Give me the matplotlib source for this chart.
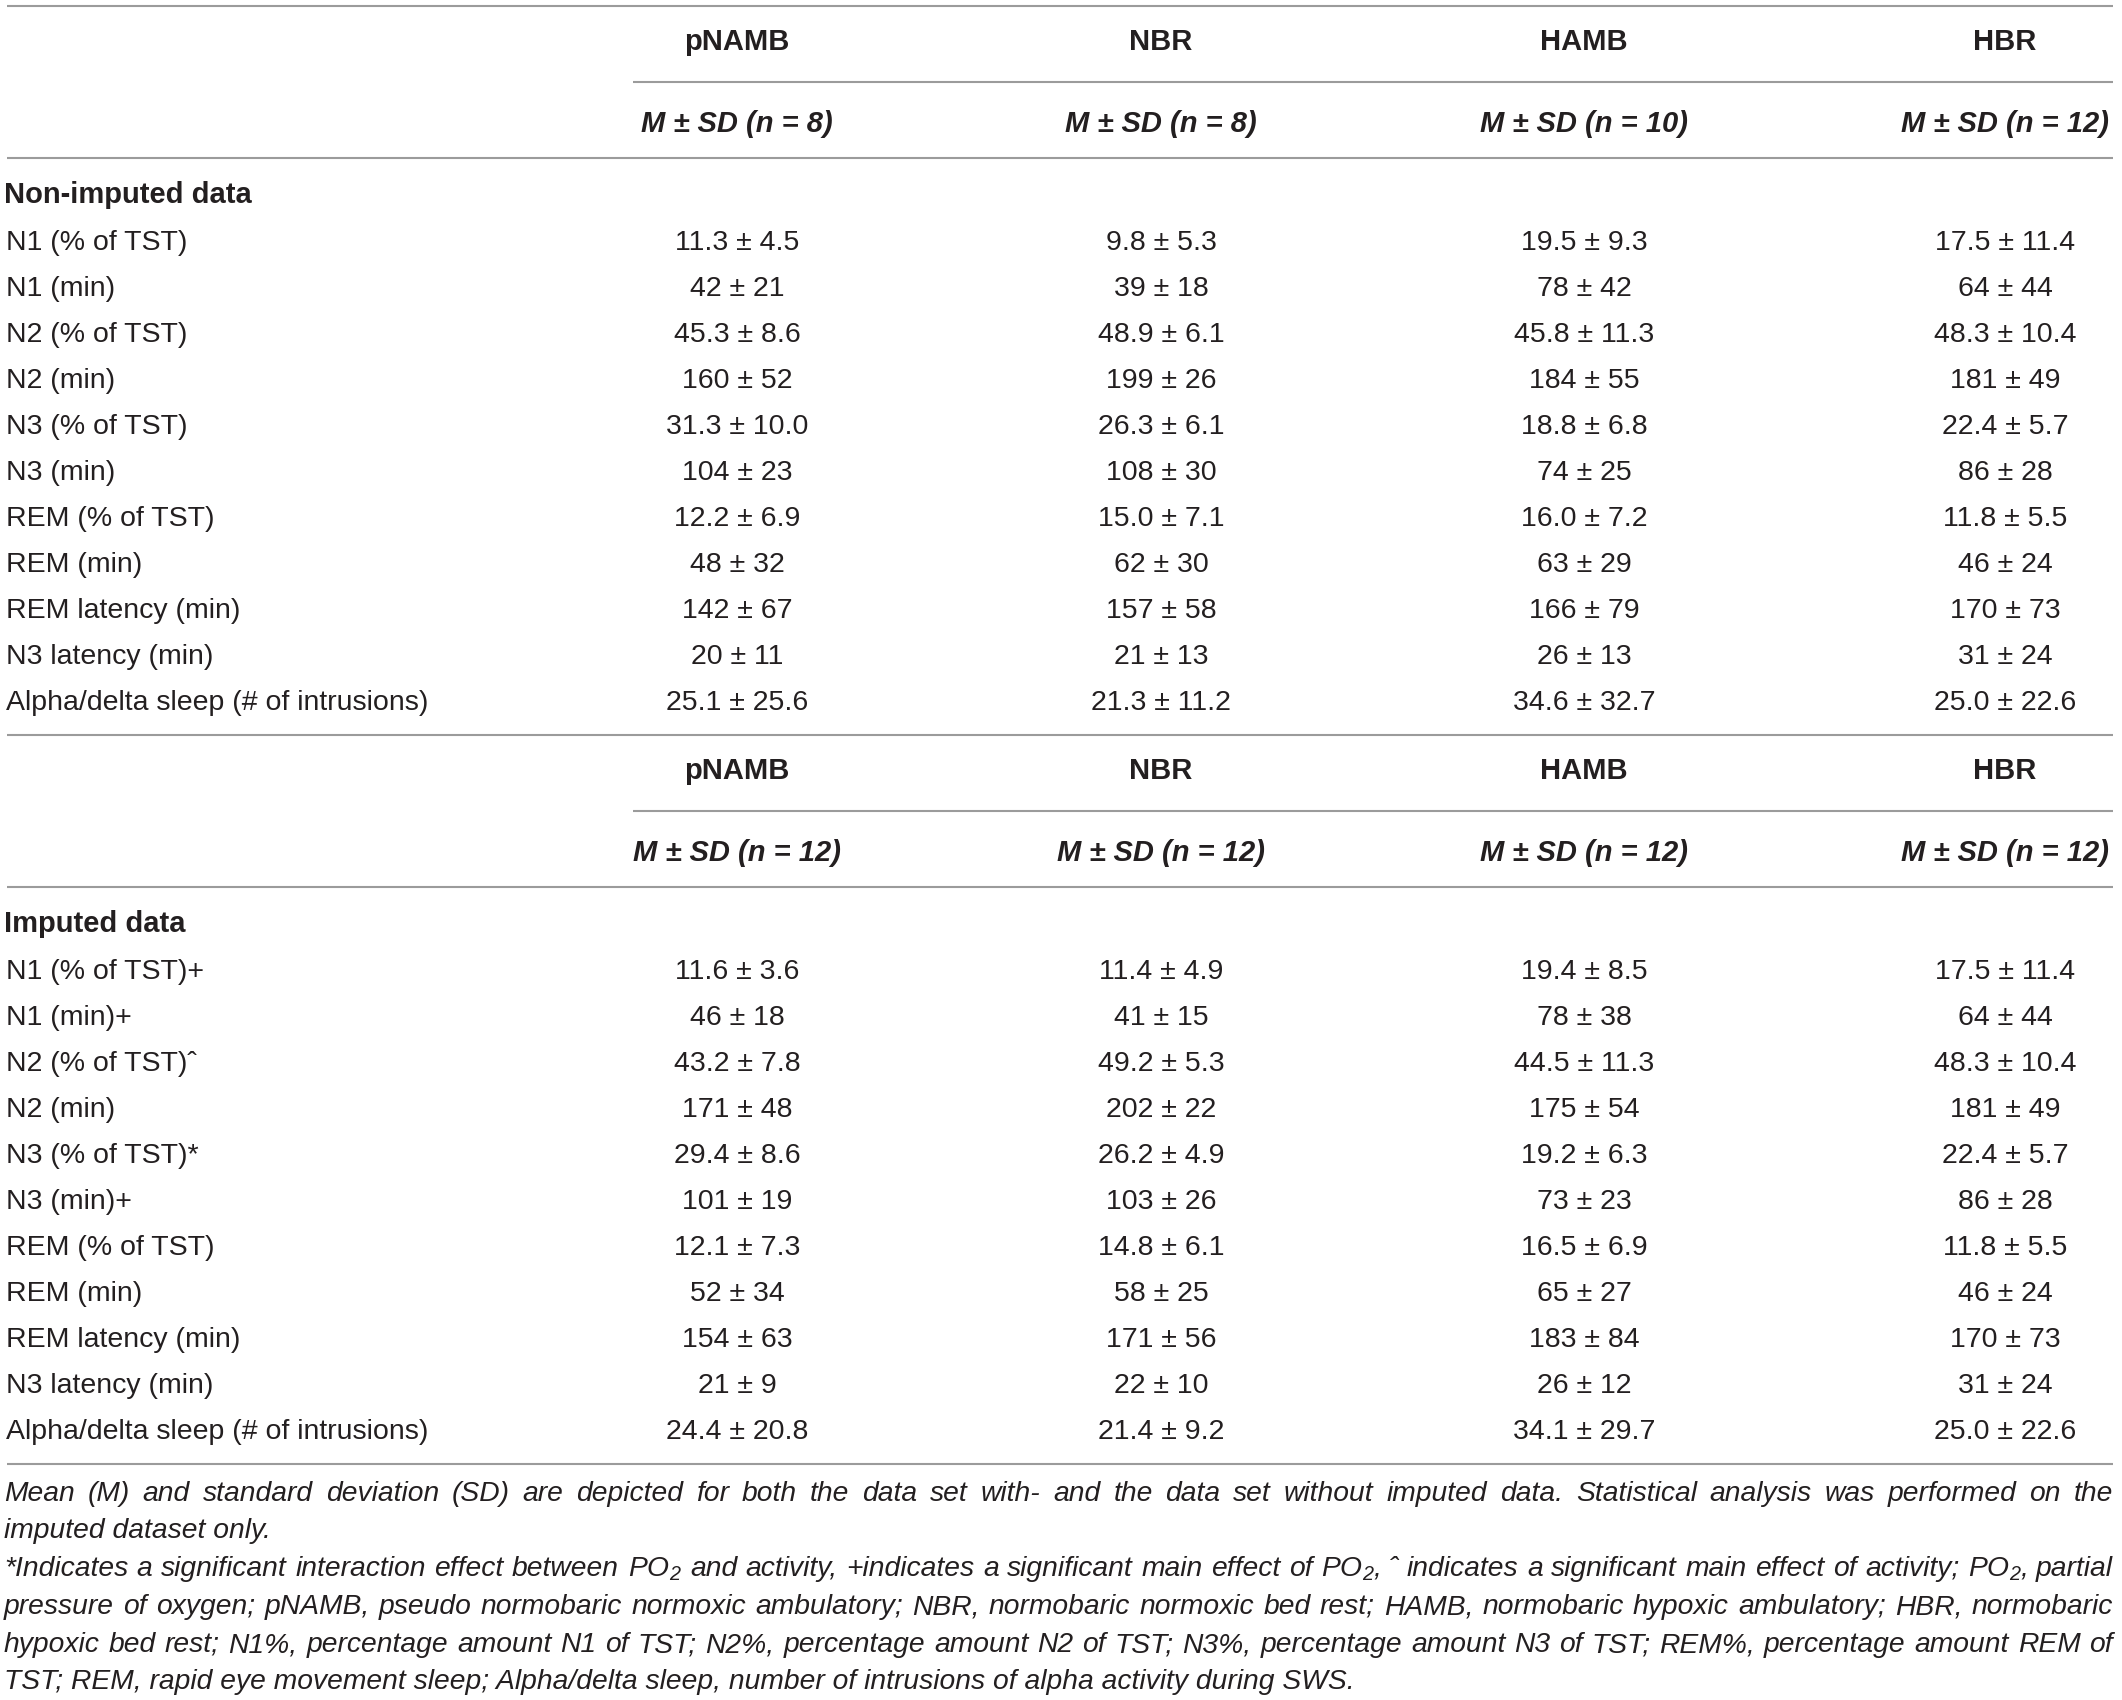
"""
Sleep architecture table (non-imputed vs imputed data), drawn as a figure
"""
import matplotlib
matplotlib.use("Agg")
import matplotlib.pyplot as plt

plt.rcParams["font.family"] = ["Liberation Sans", "DejaVu Sans"]
plt.rcParams["mathtext.fontset"] = "custom"
plt.rcParams["mathtext.rm"] = "Liberation Sans:italic"
plt.rcParams["mathtext.it"] = "Liberation Sans:italic"
plt.rcParams["mathtext.default"] = "rm"

# ---- data ----
groups = ["pNAMB", "NBR", "HAMB", "HBR"]
n_nonimputed = [8, 8, 10, 12]
n_imputed = [12, 12, 12, 12]

labels_nonimputed = [
    "N1 (% of TST)", "N1 (min)", "N2 (% of TST)", "N2 (min)", "N3 (% of TST)",
    "N3 (min)", "REM (% of TST)", "REM (min)", "REM latency (min)",
    "N3 latency (min)", "Alpha/delta sleep (# of intrusions)",
]
labels_imputed = [
    "N1 (% of TST)+", "N1 (min)+", "N2 (% of TST)ˆ", "N2 (min)", "N3 (% of TST)*",
    "N3 (min)+", "REM (% of TST)", "REM (min)", "REM latency (min)",
    "N3 latency (min)", "Alpha/delta sleep (# of intrusions)",
]
decimals = [1, 0, 1, 0, 1, 0, 1, 0, 0, 0, 1]

# non-imputed mean / sd per group
pnamb_mean = [11.3, 42, 45.3, 160, 31.3, 104, 12.2, 48, 142, 20, 25.1]
pnamb_sd = [4.5, 21, 8.6, 52, 10.0, 23, 6.9, 32, 67, 11, 25.6]
nbr_mean = [9.8, 39, 48.9, 199, 26.3, 108, 15.0, 62, 157, 21, 21.3]
nbr_sd = [5.3, 18, 6.1, 26, 6.1, 30, 7.1, 30, 58, 13, 11.2]
hamb_mean = [19.5, 78, 45.8, 184, 18.8, 74, 16.0, 63, 166, 26, 34.6]
hamb_sd = [9.3, 42, 11.3, 55, 6.8, 25, 7.2, 29, 79, 13, 32.7]
hbr_mean = [17.5, 64, 48.3, 181, 22.4, 86, 11.8, 46, 170, 31, 25.0]
hbr_sd = [11.4, 44, 10.4, 49, 5.7, 28, 5.5, 24, 73, 24, 22.6]

# imputed mean / sd per group
pnamb_mean_imp = [11.6, 46, 43.2, 171, 29.4, 101, 12.1, 52, 154, 21, 24.4]
pnamb_sd_imp = [3.6, 18, 7.8, 48, 8.6, 19, 7.3, 34, 63, 9, 20.8]
nbr_mean_imp = [11.4, 41, 49.2, 202, 26.2, 103, 14.8, 58, 171, 22, 21.4]
nbr_sd_imp = [4.9, 15, 5.3, 22, 4.9, 26, 6.1, 25, 56, 10, 9.2]
hamb_mean_imp = [19.4, 78, 44.5, 175, 19.2, 73, 16.5, 65, 183, 26, 34.1]
hamb_sd_imp = [8.5, 38, 11.3, 54, 6.3, 23, 6.9, 27, 84, 12, 29.7]
hbr_mean_imp = [17.5, 64, 48.3, 181, 22.4, 86, 11.8, 46, 170, 31, 25.0]
hbr_sd_imp = [11.4, 44, 10.4, 49, 5.7, 28, 5.5, 24, 73, 24, 22.6]

footnote_lines = [
    ("Mean (M) and standard deviation (SD) are depicted for both the data set with- and "
     "the data set without imputed data. Statistical analysis was performed on the", True),
    ("imputed dataset only.", False),
    ("*Indicates a significant interaction effect between PO$_2$ and activity, +indicates a "
     "significant main effect of PO$_2$, ˆ indicates a significant main effect of activity; "
     "PO$_2$, partial", True),
    ("pressure of oxygen; pNAMB, pseudo normobaric normoxic ambulatory; NBR, normobaric "
     "normoxic bed rest; HAMB, normobaric hypoxic ambulatory; HBR, normobaric", True),
    ("hypoxic bed rest; N1%, percentage amount N1 of TST; N2%, percentage amount N2 of TST; "
     "N3%, percentage amount N3 of TST; REM%, percentage amount REM of", True),
    ("TST; REM, rapid eye movement sleep; Alpha/delta sleep, number of intrusions of alpha "
     "activity during SWS.", False),
]

# ---- layout (pixel units) ----
W, H = 2122, 1700
TEXT = "#231f20"
RULE = "#9b9b9b"
BODY_FS = 20.5
HEAD_FS = 21
NOTE_FS = 20.3
col_x = [737, 1161, 1584, 2005]
left_x = 7
right_x = 2113
sub_rule_x = 633
row_step = 46

fig = plt.figure(figsize=(W / 100, H / 100), dpi=100)
ax = fig.add_axes([0, 0, 1, 1])
ax.set_xlim(0, W)
ax.set_ylim(H, 0)
ax.axis("off")


def rule(y, x0=left_x, x1=right_x):
    ax.plot([x0, x1], [y, y], color=RULE, lw=1.5, solid_capstyle="butt")


def block(y_top, ns, title, labels, means, sds):
    rule(y_top)
    for x, g in zip(col_x, groups):
        ax.text(x, y_top + 36, g, ha="center", va="center", fontsize=HEAD_FS,
                fontweight="bold", color=TEXT)
    rule(y_top + 76, sub_rule_x)
    for x, n in zip(col_x, ns):
        ax.text(x, y_top + 118, f"M ± SD (n = {n})", ha="center", va="center",
                fontsize=HEAD_FS, fontweight="bold", fontstyle="italic", color=TEXT)
    rule(y_top + 152)
    ax.text(left_x - 3, y_top + 189, title, ha="left", va="center", fontsize=HEAD_FS,
            fontweight="bold", color=TEXT)
    for i, lab in enumerate(labels):
        y = y_top + 237 + i * row_step
        ax.text(left_x - 1, y, lab, ha="left", va="center", fontsize=BODY_FS, color=TEXT)
        d = decimals[i]
        for x, m, s in zip(col_x, means, sds):
            ax.text(x, y, f"{m[i]:.{d}f} ± {s[i]:.{d}f}", ha="center", va="center",
                    fontsize=BODY_FS, color=TEXT)


block(6, n_nonimputed, "Non-imputed data", labels_nonimputed,
      [pnamb_mean, nbr_mean, hamb_mean, hbr_mean],
      [pnamb_sd, nbr_sd, hamb_sd, hbr_sd])
block(735, n_imputed, "Imputed data", labels_imputed,
      [pnamb_mean_imp, nbr_mean_imp, hamb_mean_imp, hbr_mean_imp],
      [pnamb_sd_imp, nbr_sd_imp, hamb_sd_imp, hbr_sd_imp])
rule(1464)

# footnote, justified like the journal layout
renderer = fig.canvas.get_renderer()
note_y = [1494, 1531, 1569, 1607, 1645, 1682]
x_start = left_x - 3
for (line, justify), y in zip(footnote_lines, note_y):
    if not justify:
        ax.text(x_start, y, line, ha="left", va="center", fontsize=NOTE_FS,
                fontstyle="italic", color=TEXT)
        continue
    words = line.split(" ")
    texts = [ax.text(0, y, w, ha="left", va="center", fontsize=NOTE_FS,
                     fontstyle="italic", color=TEXT) for w in words]
    widths = [t.get_window_extent(renderer).width for t in texts]
    gap = (right_x - x_start - sum(widths)) / (len(words) - 1)
    x = x_start
    for t, w in zip(texts, widths):
        t.set_x(x)
        x += w + gap

fig.savefig("out.png", dpi=100, facecolor="white")
